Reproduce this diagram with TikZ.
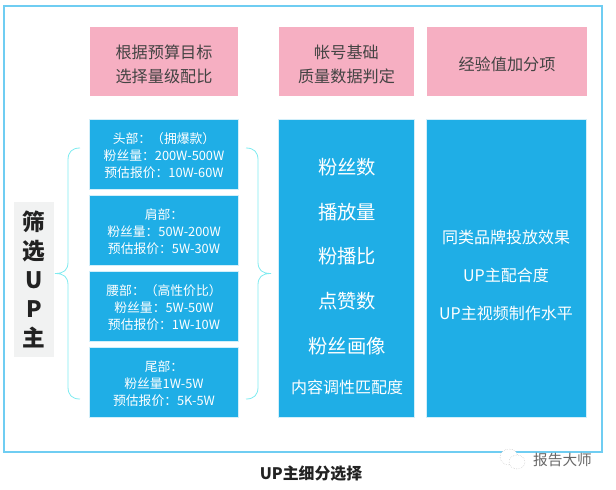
\documentclass[tikz,border=0pt]{standalone}
\usepackage{fontspec}
\setmainfont{Noto Sans CJK SC}
\definecolor{framecol}{HTML}{6FCDF2}
\definecolor{pinkcol}{HTML}{F6AFC2}
\definecolor{bluecol}{HTML}{1FAEE6}
\definecolor{bracecol}{HTML}{7FEBF0}
\definecolor{tagcol}{HTML}{F1F2F2}
\definecolor{inkcol}{HTML}{222222}
\newcommand{\pinkgap}{\rule{0pt}{14.5pt}}
\newcommand{\tiergap}{\rule{0pt}{10.6pt}}
\tikzset{
    pinkbox/.style={fill=pinkcol,text=inkcol!85,align=center,inner sep=0pt,font=\fontsize{12.1}{18}\selectfont},
    tierbox/.style={fill=bluecol,draw=white!80!bluecol,line width=0.5pt,text=white,align=center,inner sep=0pt,minimum width=111.5pt,minimum height=52.5pt,font=\fontsize{9.6}{12.9}\selectfont},
    bigbox/.style={fill=bluecol,draw=white!80!bluecol,line width=0.5pt,minimum height=223.5pt,inner sep=0pt},
    metric/.style={text=white,inner sep=0pt,font=\fontsize{14.5}{16}\selectfont},
    bonus/.style={text=white,inner sep=0pt,font=\fontsize{12}{14}\selectfont},
    bracket/.style={draw=bracecol,line width=0.6pt}
}
\begin{document}
\begin{tikzpicture}[x=0.75pt,y=-0.75pt]
    \useasboundingbox (0,0) rectangle (616,489);
    \draw[framecol,line width=1.2pt] (4,6) rectangle (602,452);
    % top row
    \node[pinkbox,minimum width=111pt,minimum height=52pt] (budget) at (164,61.5) {\pinkgap 根据预算目标\\选择量级配比};
    \node[pinkbox,minimum width=101.5pt,minimum height=52pt] (account) at (346.5,61.5) {\pinkgap 帐号基础\\质量数据判定};
    \node[pinkbox,minimum width=120pt,minimum height=52pt] (bonushead) at (507,61.5) {\pinkgap 经验值加分项};
    % tiers
    \node[tierbox] (head) at (164,154) {\tiergap 头部：（拥爆款）\\粉丝量：200W-500W\\预估报价：10W-60W};
    \node[tierbox] (shoulder) at (164,230) {\tiergap 肩部：\\粉丝量：50W-200W\\预估报价：5W-30W};
    \node[tierbox] (waist) at (164,306) {\tiergap 腰部：（高性价比）\\粉丝量：5W-50W\\预估报价：1W-10W};
    \node[tierbox] (tail) at (164,382) {\tiergap 尾部：\\粉丝量1W-5W\\预估报价：5K-5W};
    % columns
    \node[bigbox,minimum width=101.5pt] (metrics) at (346.3,268) {};
    \node[bigbox,minimum width=120.5pt] (bonuses) at (506.3,268) {};
    \node[metric] (fans) at (347,167.5) {粉丝数};
    \node[metric] (plays) at (347,212.5) {播放量};
    \node[metric] (ratio) at (347,256.5) {粉播比};
    \node[metric] (likes) at (347,301.5) {点赞数};
    \node[metric] (portrait) at (347,346.5) {粉丝画像};
    \node[bonus] (match) at (347,387.5) {内容调性匹配度};
    \node[bonus] (brand) at (506,237.5) {同类品牌投放效果};
    \node[bonus] (fit) at (506,275.5) {UP主配合度};
    \node[bonus] (craft) at (506,313.5) {UP主视频制作水平};
    % left tag
    \node[fill=tagcol,text=inkcol,minimum width=30pt,minimum height=116pt,inner sep=0pt,align=center,font=\fontsize{17}{21.75}\selectfont\bfseries] (tag) at (34,279.5) {筛\\选\\U\\P\\主};
    % braces
    \draw[bracket] (80,148) .. controls (72,148) and (68,152) .. (68,160) -- (68,262) .. controls (68,270) and (64,273.5) .. (55,273.5) .. controls (64,273.5) and (68,277) .. (68,285) -- (68,387) .. controls (68,395) and (72,399) .. (80,399);
    \draw[bracket] (246,148) .. controls (254,148) and (258,152) .. (258,160) -- (258,262) .. controls (258,270) and (262,273.5) .. (271,273.5) .. controls (262,273.5) and (258,277) .. (258,285) -- (258,387) .. controls (258,395) and (254,399) .. (246,399);
    % caption
    \node[text=inkcol,inner sep=0pt,font=\fontsize{11.9}{14}\selectfont\bfseries] (caption) at (311,474) {UP主细分选择};
    % mark
    \node[text=black!60,inner sep=0pt,font=\fontsize{11}{13}\selectfont] (mark) at (562.5,459.5) {报告大师};
    \draw[black!35,line width=0.3pt,densely dotted,fill=white] (509,457) ellipse (9 and 8);
    \draw[black!35,line width=0.3pt,densely dotted,fill=white] (517,462) ellipse (8 and 7);
\end{tikzpicture}
\end{document}
